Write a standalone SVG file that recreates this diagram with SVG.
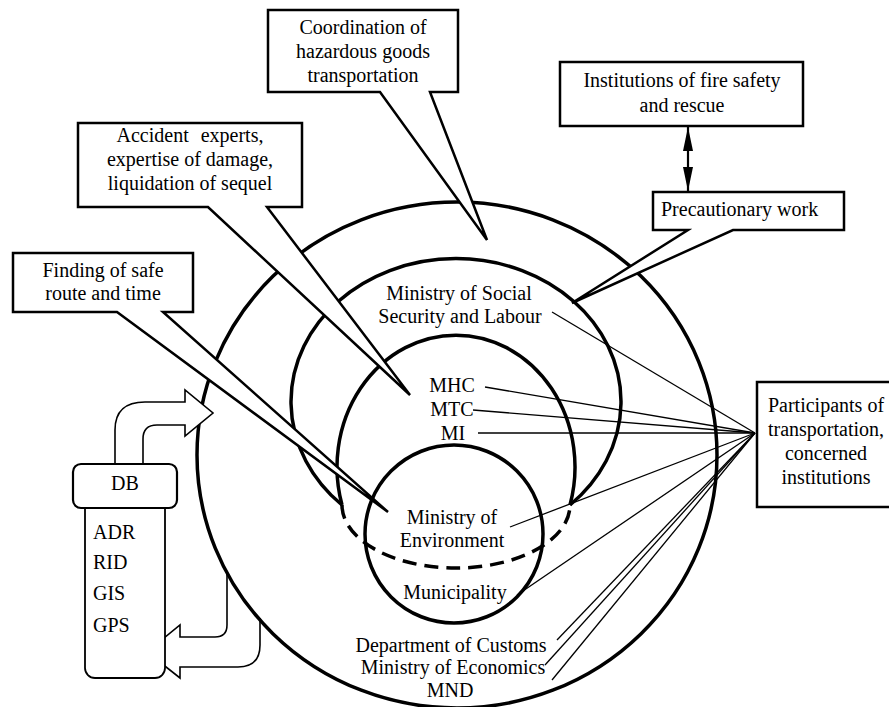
<svg xmlns="http://www.w3.org/2000/svg" width="889" height="707" viewBox="0 0 889 707">
<style>
text{font-family:"Liberation Serif","Times New Roman",serif;font-size:20px;fill:#000}
.c{text-anchor:middle}
.ring{fill:none;stroke:#000;stroke-width:3.5}
.dash{fill:none;stroke:#000;stroke-width:3.5;stroke-dasharray:14 8}
.call{fill:#fff;stroke:#000;stroke-width:2.5;stroke-linejoin:miter}
.box{fill:#fff;stroke:#000;stroke-width:2.5}
.conn{fill:none;stroke:#000;stroke-width:1.3}
.harrow{fill:#fff;stroke:#000;stroke-width:1.6;stroke-linejoin:miter}
</style>
<defs>
<marker id="ah" markerUnits="userSpaceOnUse" viewBox="0 0 24 10" markerWidth="24" markerHeight="10" refX="24" refY="5" orient="auto-start-reverse">
<path d="M0,0 L24,5 L0,10 z" fill="#000"/>
</marker>
</defs>
<rect width="889" height="707" fill="#fff"/>

<g id="db-lower-arrow">
<path class="harrow" d="M260,618 V645 Q260,667 238,667 H180 V678 L147,652 L180,625 V637 H215 Q227,637 227,625 V571"/>
</g>

<g id="rings">
<ellipse id="outer-ring" class="ring" cx="457" cy="455" rx="260" ry="253"/>
<path id="ring-social" class="ring" d="M342,505 A165,143 0 1 1 570,505"/>
<path id="ring-mhc" class="ring" d="M342,505 A119,132 0 1 1 570,505"/>
<circle id="ring-env" class="ring" cx="454" cy="534" r="89"/>
<path id="ring-dashed" class="dash" d="M342,505 A114,63 0 0 0 570,505"/>
</g>

<g id="db">
<path class="harrow" d="M115,464 V430 Q115,402 145,402 H185 V390 L213,413 L185,436 V425 H157 Q143,425 143,439 V464"/>
<rect x="85" y="496" width="80" height="182" rx="10" fill="#fff" stroke="#000" stroke-width="1.8"/>
<rect x="73" y="464" width="104" height="44" rx="8" fill="#fff" stroke="#000" stroke-width="2.2"/>
<text class="c" x="125" y="490">DB</text>
<text x="93" y="539">ADR</text>
<text x="93" y="569">RID</text>
<text x="93" y="600">GIS</text>
<text x="93" y="632">GPS</text>
</g>

<g id="coordination">
<path class="call" d="M268,10 H458 V92 H430 L487,240 L380,92 H268 Z"/>
<text class="c" x="363" y="34">Coordination of</text>
<text class="c" x="363" y="58">hazardous goods</text>
<text class="c" x="363" y="82">transportation</text>
</g>

<g id="accident">
<path class="call" d="M78,123 H302 V207 H267 L410,395 L208,207 H78 Z"/>
<text class="c" x="190" y="142" word-spacing="7">Accident experts,</text>
<text class="c" x="190" y="166">expertise of damage,</text>
<text class="c" x="190" y="190">liquidation of sequel</text>
</g>

<g id="finding">
<path class="call" d="M13,253 H193 V312 H163 L388,512 L117,312 H13 Z"/>
<text class="c" x="103" y="277">Finding of safe</text>
<text class="c" x="103" y="300">route and time</text>
</g>

<g id="institutions">
<rect class="box" x="560" y="62" width="243" height="64"/>
<text class="c" x="682" y="87">Institutions of fire safety</text>
<text class="c" x="682" y="112">and rescue</text>
</g>

<g id="precautionary">
<path class="call" d="M653,192 H844 V230 H733 L572,303 L688,230 H653 Z"/>
<text x="661" y="216">Precautionary work</text>
</g>

<g id="participants">
<rect class="box" x="757" y="382" width="140" height="125"/>
<text class="c" x="826" y="412">Participants of</text>
<text class="c" x="826" y="436">transportation,</text>
<text class="c" x="826" y="460">concerned</text>
<text class="c" x="826" y="484">institutions</text>
</g>

<g id="connectors">
<line x1="688" y1="127" x2="688" y2="191" stroke="#000" stroke-width="2.2" marker-start="url(#ah)" marker-end="url(#ah)"/>
<line class="conn" x1="552" y1="312" x2="755" y2="433"/>
<line class="conn" x1="485" y1="387" x2="755" y2="433"/>
<line class="conn" x1="473" y1="410" x2="755" y2="433"/>
<line class="conn" x1="478" y1="433" x2="755" y2="433"/>
<line class="conn" x1="510" y1="527" x2="755" y2="433"/>
<line class="conn" x1="517" y1="595" x2="755" y2="433"/>
<line class="conn" x1="557" y1="640" x2="755" y2="433"/>
<line class="conn" x1="545" y1="665" x2="755" y2="433"/>
<line class="conn" x1="552" y1="680" x2="755" y2="433"/>
</g>

<g id="ring-labels">
<text class="c" x="459" y="300">Ministry of Social</text>
<text class="c" x="460" y="323">Security and Labour</text>
<text class="c" x="452" y="392">MHC</text>
<text class="c" x="452" y="416">MTC</text>
<text class="c" x="453" y="440">MI</text>
<text class="c" x="452" y="524">Ministry of</text>
<text class="c" x="452" y="547">Environment</text>
<text class="c" x="455" y="599">Municipality</text>
<text class="c" x="451" y="652">Department of Customs</text>
<text class="c" x="453" y="674">Ministry of Economics</text>
<text class="c" x="450" y="697">MND</text>
</g>
</svg>
